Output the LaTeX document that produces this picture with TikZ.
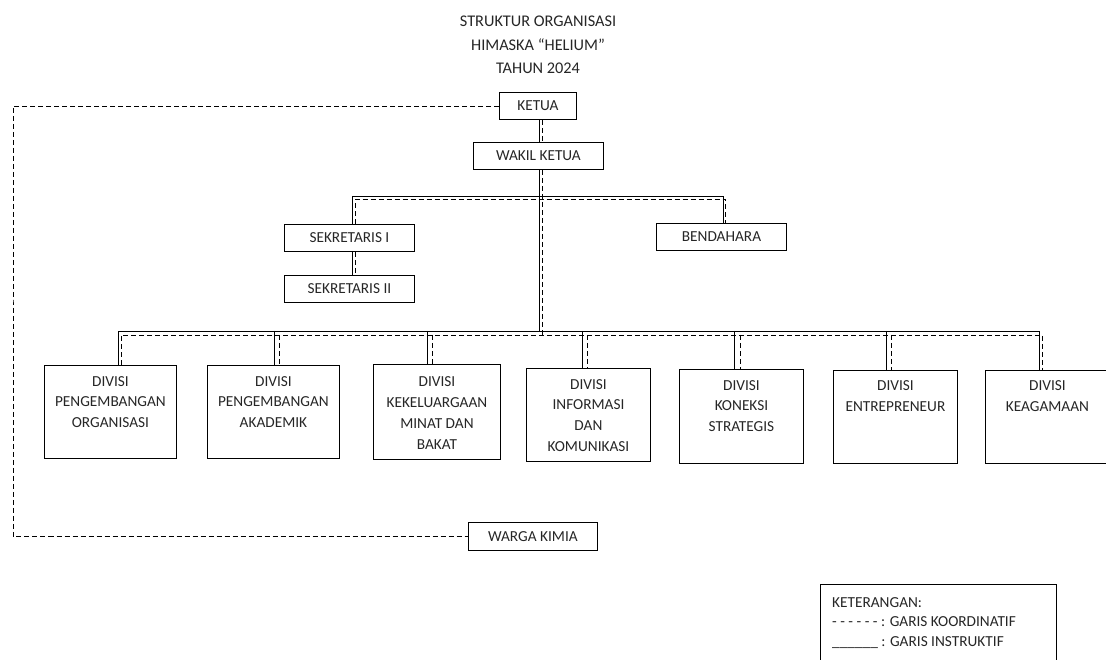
\documentclass[tikz,border=0pt]{standalone}
\usepackage{fontspec}
\setmainfont{Carlito}
\begin{document}
\begin{tikzpicture}[x=1pt,y=-1pt,
  every node/.style={font=\fontsize{15.3}{20.8}\selectfont, text=black!85},
  box/.style={draw=black, line width=0.9pt, inner sep=0pt, anchor=north west},
  divtext/.style={align=center, inner sep=0pt, anchor=north},
  sol/.style={line width=0.8pt},
  dsh/.style={line width=0.8pt, dash pattern=on 5pt off 3pt},
]
\useasboundingbox (0,0) rectangle (1106,660);
\clip (0,0) rectangle (1106,660);

% title
\node[align=center, inner sep=0pt, anchor=north, font=\fontsize{16.3}{23.5}\selectfont] (title) at (538,15.8)
  {STRUKTUR ORGANISASI\\HIMASKA ``HELIUM''\\TAHUN 2024};

% top boxes
\node[box, minimum width=77, minimum height=27] (ketua) at (499,92) {KETUA};
\node[box, minimum width=130, minimum height=27] (wakil) at (473,142) {WAKIL KETUA};
\node[box, minimum width=130, minimum height=27] (sek1) at (284,224) {SEKRETARIS I};
\node[box, minimum width=130, minimum height=27] (sek2) at (284,275) {SEKRETARIS II};
\node[box, minimum width=130, minimum height=27] (bend) at (656,223) {BENDAHARA};
\node[box, minimum width=129, minimum height=28] (warga) at (468,522) {WARGA KIMIA};

% divisions
\node[box, minimum width=132, minimum height=93] (d1) at (44,365) {};
\node[box, minimum width=132, minimum height=93] (d2) at (207,365) {};
\node[box, minimum width=127, minimum height=95] (d3) at (373,364) {};
\node[box, minimum width=124, minimum height=93] (d4) at (526,368) {};
\node[box, minimum width=124, minimum height=94] (d5) at (679,369) {};
\node[box, minimum width=124, minimum height=93] (d6) at (833,370) {};
\node[box, minimum width=124, minimum height=93] (d7) at (985,370) {};

\node[divtext] (t1) at ([yshift=-11pt]d1.north) {DIVISI\\PENGEMBANGAN\\ORGANISASI};
\node[divtext] (t2) at ([yshift=-11pt]d2.north) {DIVISI\\PENGEMBANGAN\\AKADEMIK};
\node[divtext] (t3) at ([yshift=-12.5pt]d3.north) {DIVISI\\KEKELUARGAAN\\MINAT DAN\\BAKAT};
\node[divtext] (t4) at ([yshift=-11pt]d4.north) {DIVISI\\INFORMASI\\DAN\\KOMUNIKASI};
\node[divtext] (t5) at ([yshift=-11pt]d5.north) {DIVISI\\KONEKSI\\STRATEGIS};
\node[divtext] (t6) at ([yshift=-10.5pt]d6.north) {DIVISI\\ENTREPRENEUR};
\node[divtext] (t7) at ([yshift=-10.5pt]d7.north) {DIVISI\\KEAGAMAAN};

% legend
\node[draw=black, line width=0.9pt, anchor=north west, minimum width=236, minimum height=100, inner sep=0pt] (legbox) at (820,584) {};
\node[align=left, inner sep=0pt, anchor=north west, font=\fontsize{15.3}{19.5}\selectfont] (legtext) at (832,597)
  {KETERANGAN:\\- - - - - - : GARIS KOORDINATIF\\\_\_\_\_\_\_ : GARIS INSTRUKTIF};

% reference coordinates for the parallel lines
\coordinate (ts) at (539,0);   \coordinate (td) at (542.5,0);
\coordinate (busU) at (0,196); \coordinate (busUd) at (0,199.5);
\coordinate (busL) at (0,331); \coordinate (busLd) at (0,335);
\coordinate (s1s) at (352,0);  \coordinate (s1d) at (355,0);
\coordinate (bs) at (723,0);   \coordinate (bd) at (725.5,0);
\coordinate (d1s) at (118,0);  \coordinate (d1d) at (121,0);
\coordinate (d2s) at (274,0);  \coordinate (d2d) at (279,0);
\coordinate (d3s) at (427,0);  \coordinate (d3d) at (432,0);
\coordinate (d4s) at (582,0);  \coordinate (d4d) at (587,0);
\coordinate (d5s) at (734,0);  \coordinate (d5d) at (740,0);
\coordinate (d6s) at (886,0);  \coordinate (d6d) at (891,0);
\coordinate (d7s) at (1039,0); \coordinate (d7d) at (1042,0);
\coordinate (lx) at (13,300);

% ketua - wakil
\draw[sol] (ketua.south -| ts) -- (wakil.north -| ts);
\draw[dsh] (ketua.south -| td) -- (wakil.north -| td);
% trunk
\draw[sol] (wakil.south -| ts) -- (busL -| ts);
\draw[dsh] (wakil.south -| td) -- (busLd -| td);
% upper bus
\draw[sol] (sek1.north -| s1s) -- (busU -| s1s) -- (busU -| bs) -- (bend.north -| bs);
\draw[dsh] (sek1.north -| s1d) -- (busUd -| s1d) -- (busUd -| bd) -- (bend.north -| bd);
\draw[sol] (sek1.south -| s1s) -- (sek2.north -| s1s);
\draw[dsh] (sek1.south -| s1d) -- (sek2.north -| s1d);
% lower bus
\draw[sol] (d1.north -| d1s) -- (busL -| d1s) -- (busL -| d7s) -- (d7.north -| d7s);
\draw[dsh] (d1.north -| d1d) -- (busLd -| d1d) -- (busLd -| d7d) -- (d7.north -| d7d);
\foreach \i in {2,...,6}{
  \draw[sol] (busL -| d\i s) -- (d\i.north -| d\i s);
  \draw[dsh] (busLd -| d\i d) -- (d\i.north -| d\i d);
}
% coordination loop
\draw[dsh] (ketua.west) -| (lx) |- (warga.west);
\end{tikzpicture}
\end{document}
